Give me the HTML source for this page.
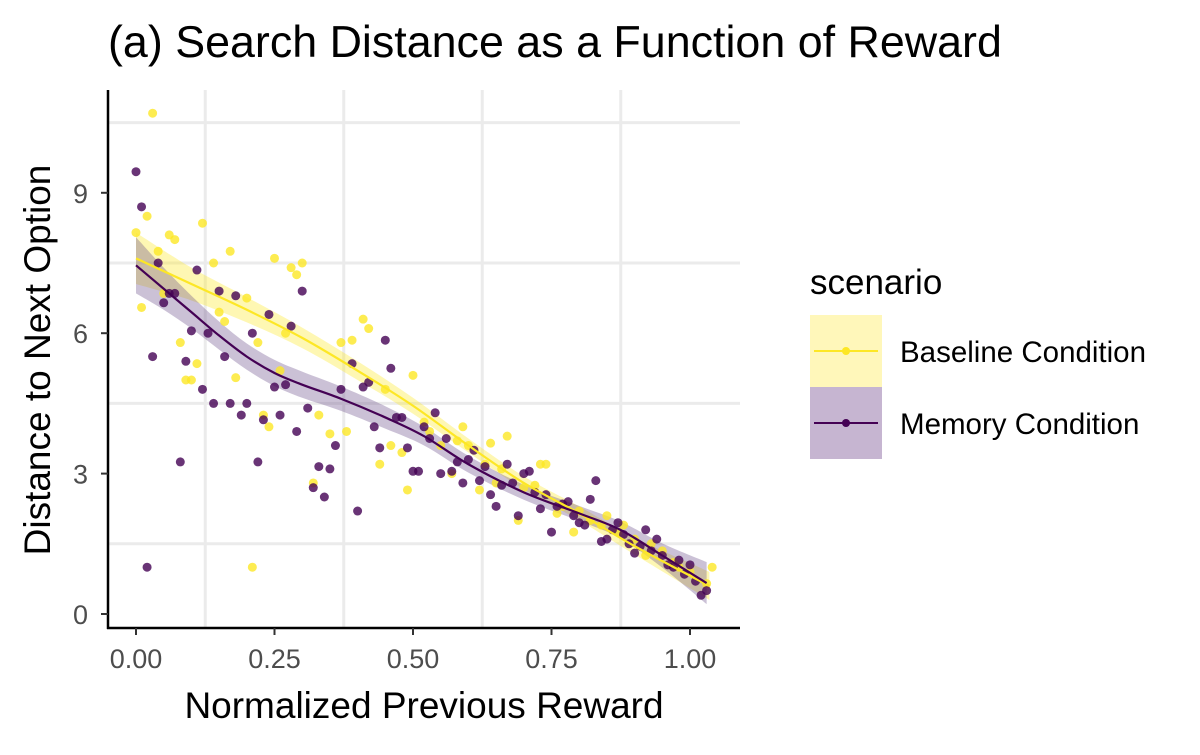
<!DOCTYPE html>
<html><head><meta charset="utf-8"><style>
body{margin:0;background:#fff;}
svg text{font-family:"Liberation Sans",sans-serif;}
</style></head><body>
<svg id="chart" width="1200" height="750" xmlns="http://www.w3.org/2000/svg">
<text x="108" y="57" font-size="44.8" fill="#000">(a) Search Distance as a Function of Reward</text>
<g id="grid"></g>
<g id="bands"></g>
<g id="points"></g>
<g id="lines"></g>
<line x1="108" y1="90" x2="108" y2="629" stroke="#000" stroke-width="2.5"/>
<line x1="107" y1="628" x2="740" y2="628" stroke="#000" stroke-width="2.5"/>
<g id="ticks"></g>
<text x="424" y="718" font-size="37" text-anchor="middle">Normalized Previous Reward</text>
<text transform="translate(50,360) rotate(-90)" font-size="37" text-anchor="middle">Distance to Next Option</text>
<g>
<text x="810" y="294" font-size="35">scenario</text>
<g>
<rect x="810" y="315" width="72" height="72" fill="#FFF7BA"/>
<line x1="814" y1="351" x2="878" y2="351" stroke="#FDE725" stroke-width="2"/>
<circle cx="846" cy="351" r="4" fill="#FDE725"/>
<text x="900" y="362" font-size="29.5">Baseline Condition</text>
</g>
<g>
<rect x="810" y="387" width="72" height="72" fill="#C6B5D1"/>
<line x1="814" y1="423" x2="878" y2="423" stroke="#440154" stroke-width="2"/>
<circle cx="846" cy="423" r="4" fill="#440154"/>
<text x="900" y="434" font-size="29.5">Memory Condition</text>
</g>
</g>
</svg>
<script>
const xTicks=[0,0.25,0.5,0.75,1.0];
const xTickLabels=["0.00","0.25","0.50","0.75","1.00"];
const yTicks=[0,3,6,9];
const yTickLabels=["0","3","6","9"];
const xGrid=[0.125,0.375,0.625,0.875];
const yGrid=[1.5,4.5,7.5,10.5];
const baselinePts=[[0,8.15],[0.01,6.55],[0.02,8.5],[0.03,10.7],[0.04,7.75],[0.05,6.85],[0.06,8.1],[0.07,8.0],[0.08,5.8],[0.09,5.0],[0.1,5.0],[0.11,5.35],[0.12,8.35],[0.14,7.5],[0.15,6.45],[0.16,6.25],[0.17,7.75],[0.18,5.05],[0.2,6.75],[0.21,1.0],[0.22,5.8],[0.23,4.25],[0.24,4.0],[0.25,7.6],[0.26,5.2],[0.27,6.0],[0.28,7.4],[0.29,7.25],[0.3,7.5],[0.32,2.8],[0.33,4.25],[0.35,3.85],[0.37,5.8],[0.38,3.9],[0.39,5.85],[0.41,6.3],[0.42,6.1],[0.44,3.2],[0.45,4.8],[0.46,3.6],[0.48,3.45],[0.49,2.65],[0.5,5.1],[0.52,4.1],[0.53,3.9],[0.55,3.6],[0.57,3.0],[0.58,3.7],[0.59,4.0],[0.6,3.6],[0.62,2.65],[0.63,3.2],[0.64,3.65],[0.65,2.8],[0.66,3.1],[0.67,3.8],[0.69,2.0],[0.7,2.7],[0.72,2.75],[0.73,3.2],[0.74,3.2],[0.76,2.15],[0.77,2.3],[0.79,1.75],[0.8,2.2],[0.82,2.0],[0.84,1.9],[0.85,2.1],[0.87,1.75],[0.88,1.9],[0.9,1.6],[0.92,1.25],[0.93,1.5],[0.95,1.35],[0.97,1.1],[0.98,1.0],[1.0,0.9],[1.03,0.65],[1.04,1.0]];
const memoryPts=[[0,9.45],[0.01,8.7],[0.02,1.0],[0.03,5.5],[0.04,7.5],[0.05,6.65],[0.06,6.85],[0.07,6.85],[0.08,3.25],[0.09,5.4],[0.1,6.05],[0.11,7.35],[0.12,4.8],[0.13,6.0],[0.14,4.5],[0.15,6.9],[0.16,5.5],[0.17,4.5],[0.18,6.8],[0.19,4.25],[0.2,4.5],[0.21,6.0],[0.22,3.25],[0.23,4.15],[0.24,6.4],[0.25,4.85],[0.26,4.25],[0.27,4.9],[0.28,6.15],[0.29,3.9],[0.3,6.9],[0.31,4.4],[0.32,2.7],[0.33,3.15],[0.34,2.5],[0.35,3.1],[0.36,3.6],[0.37,4.8],[0.39,5.35],[0.4,2.2],[0.41,4.85],[0.42,4.95],[0.43,4.0],[0.44,3.55],[0.45,5.85],[0.46,5.25],[0.47,4.2],[0.48,4.2],[0.49,3.55],[0.5,3.05],[0.51,3.05],[0.52,4.0],[0.53,3.75],[0.54,4.3],[0.55,3.0],[0.56,3.75],[0.57,3.05],[0.58,3.25],[0.59,2.8],[0.6,3.3],[0.61,3.5],[0.62,2.85],[0.63,3.15],[0.64,2.55],[0.65,2.3],[0.66,2.75],[0.67,3.2],[0.68,2.8],[0.69,2.1],[0.7,3.0],[0.71,3.05],[0.72,2.6],[0.73,2.25],[0.74,2.55],[0.75,1.75],[0.76,2.3],[0.77,2.35],[0.78,2.4],[0.79,2.1],[0.8,1.95],[0.81,1.9],[0.82,2.45],[0.83,2.85],[0.84,1.55],[0.85,1.6],[0.86,1.8],[0.87,1.95],[0.88,1.7],[0.89,1.5],[0.9,1.3],[0.91,1.45],[0.92,1.8],[0.93,1.35],[0.94,1.6],[0.95,1.25],[0.96,1.05],[0.97,1.0],[0.98,1.15],[0.99,0.85],[1.0,1.05],[1.01,0.7],[1.02,0.4],[1.03,0.5]];
const baselineFit=[[0,7.6,0.55],[0.1,7.05,0.35],[0.2,6.5,0.27],[0.3,5.9,0.22],[0.4,5.2,0.2],[0.5,4.45,0.17],[0.6,3.6,0.15],[0.7,2.8,0.14],[0.8,2.15,0.15],[0.9,1.45,0.18],[1.035,0.6,0.3]];
const memoryFit=[[0,7.45,0.6],[0.05,6.95,0.45],[0.1,6.45,0.35],[0.15,5.95,0.3],[0.2,5.5,0.28],[0.25,5.15,0.28],[0.3,4.9,0.28],[0.37,4.6,0.26],[0.45,4.2,0.24],[0.52,3.8,0.2],[0.6,3.2,0.18],[0.7,2.6,0.16],[0.8,2.15,0.16],[0.874,1.8,0.18],[0.95,1.25,0.26],[1.03,0.66,0.45]];
const NS="http://www.w3.org/2000/svg";
const X=v=>136+v*554, Y=v=>614-v*46.8;
const L=108,R=740,T=90,B=628;
function mk(t,a,p){const e=document.createElementNS(NS,t);for(const k in a)e.setAttribute(k,a[k]);p.appendChild(e);return e;}
function smooth(P){let d='M'+P[0][0]+','+P[0][1];for(let i=0;i<P.length-1;i++){const p0=P[Math.max(i-1,0)],p1=P[i],p2=P[i+1],p3=P[Math.min(i+2,P.length-1)];
d+=' C'+(p1[0]+(p2[0]-p0[0])/6)+','+(p1[1]+(p2[1]-p0[1])/6)+' '+(p2[0]-(p3[0]-p1[0])/6)+','+(p2[1]-(p3[1]-p1[1])/6)+' '+p2[0]+','+p2[1];}return d;}
const g=document.getElementById('grid');
xGrid.forEach(v=>{const e=mk('line',{x1:X(v),x2:X(v),y1:T,y2:B,stroke:'#ebebeb','stroke-width':3},g);

});
yGrid.forEach(v=>{const e=mk('line',{x1:L,x2:R,y1:Y(v),y2:Y(v),stroke:'#ebebeb','stroke-width':3},g);

});
const tk=document.getElementById('ticks');
xTicks.forEach((v,i)=>{mk('line',{x1:X(v),x2:X(v),y1:628,y2:635,stroke:'#333','stroke-width':2},tk);
const t=mk('text',{x:X(v),y:668,'font-size':27,fill:'#4d4d4d','text-anchor':'middle'},tk);t.textContent=xTickLabels[i];

});
yTicks.forEach((v,i)=>{mk('line',{x1:101,x2:108,y1:Y(v),y2:Y(v),stroke:'#333','stroke-width':2},tk);
const t=mk('text',{x:88,y:Y(v)+10,'font-size':27,fill:'#4d4d4d','text-anchor':'end'},tk);t.textContent=yTickLabels[i];

});
const bd=document.getElementById('bands'),pt=document.getElementById('points'),ln=document.getElementById('lines');
function band(fit,col,name){const up=fit.map(d=>[X(d[0]),Y(d[1]+d[2])]),dn=fit.slice().reverse().map(d=>[X(d[0]),Y(d[1]-d[2])]);
const d=smooth(up)+' L'+smooth(dn).slice(1)+' Z';
const e=mk('path',{d:d,fill:col,'fill-opacity':0.35},bd);

}
function line(fit,col,name){const e=mk('path',{d:smooth(fit.map(d=>[X(d[0]),Y(d[1])])),fill:'none',stroke:col,'stroke-width':2.2},ln);

}
function pts(arr,col,name){arr.forEach(d=>{const e=mk('circle',{cx:X(d[0]),cy:Y(d[1]),r:4.5,fill:col,'fill-opacity':0.8},pt);

});}
band(baselineFit,'#FDE725','baseline-band');
band(memoryFit,'#6B4C8A','memory-band');
pts(baselinePts,'#FDE725','baseline-point');
pts(memoryPts,'#440154','memory-point');
line(baselineFit,'#FDE725','baseline-line');
line(memoryFit,'#440154','memory-line');
</script>
</body></html>
